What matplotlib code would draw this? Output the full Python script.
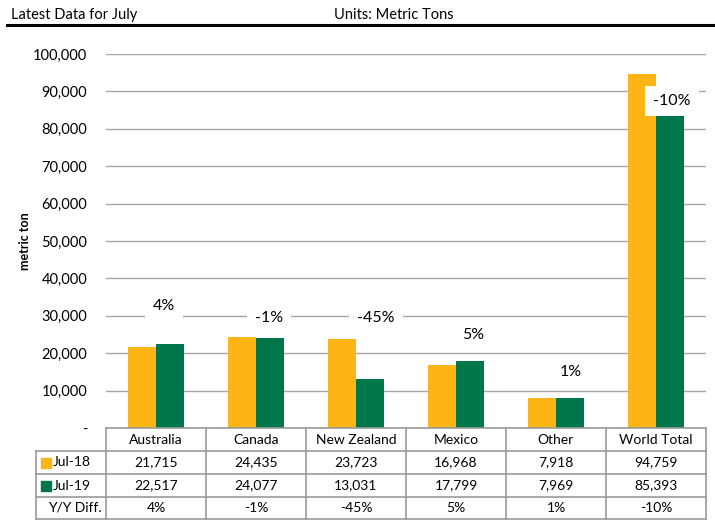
import numpy as np
import matplotlib.pyplot as plt
from matplotlib.lines import Line2D

plt.rcParams['font.family'] = ['Lato', 'DejaVu Sans']

# data
categories = ['Australia', 'Canada', 'New Zealand', 'Mexico', 'Other', 'World Total']
jul18 = [21715, 24435, 23723, 16968, 7918, 94759]
jul19 = [22517, 24077, 13031, 17799, 7969, 85393]
yoy = ['4%', '-1%', '-45%', '5%', '1%', '-10%']
# where the Y/Y labels sit (offset from category centre, height)
label_dx = [0.08, 0.13, 0.20, 0.17, 0.15, 0.16]
label_y = [32600, 29400, 29400, 24900, 15000, 87400]

orange = '#FCB515'
green = '#00774A'
grid_c = '#A6A6A6'

W, H = 715, 521
fig = plt.figure(figsize=(W / 100, H / 100), dpi=100)

def fx(px):
    return px / W

def fy(py):
    return 1 - py / H

# header
fig.text(fx(11), fy(15), 'Latest Data for July', fontsize=10.5, va='center', ha='left')
fig.text(fx(394), fy(15), 'Units: Metric Tons', fontsize=10.5, va='center', ha='center')
fig.add_artist(Line2D([fx(7), 1], [fy(25), fy(25)], color='black', lw=2.2,
                      transform=fig.transFigure))

# chart
x0, x1, ytop, ybot = 106, 706, 54, 428
ax = fig.add_axes([fx(x0), fy(ybot), fx(x1 - x0), fy(ytop) - fy(ybot)])
x = np.arange(len(categories))
w = 0.28
ax.bar(x - w / 2, jul18, w, color=orange, zorder=3)
ax.bar(x + w / 2, jul19, w, color=green, zorder=3)
ax.set_xlim(-0.5, len(categories) - 0.5)
ax.set_ylim(0, 100000)
ax.set_yticks(range(0, 100001, 10000))
ax.set_yticklabels(['-'] + [f'{v:,}' for v in range(10000, 100001, 10000)], fontsize=10.5)
ax.tick_params(axis='y', length=0, pad=13.5)
ax.set_xticks([])
ax.grid(axis='y', color=grid_c, lw=1, zorder=0)
for s in ax.spines.values():
    s.set_visible(False)
ax.set_ylabel('metric ton', fontsize=9, fontweight='bold')
ax.yaxis.set_label_coords(-0.125, 0.5)

for i, t in enumerate(yoy):
    ax.text(x[i] + label_dx[i], label_y[i], t, ha='center', va='center', fontsize=11.5,
            zorder=5, bbox=dict(facecolor='white', edgecolor='none', pad=6))

# data table under the chart
tx0 = 36
rows = [428, 451, 474, 497, 519]
col_edges = [x0 + 100 * i for i in range(len(categories) + 1)]
lc = '#9A9A9A'

def hline(xa, xb, yy):
    fig.add_artist(Line2D([fx(xa), fx(xb)], [fy(yy), fy(yy)], color=lc, lw=1.2,
                          transform=fig.transFigure))

def vline(xx, ya, yb):
    fig.add_artist(Line2D([fx(xx), fx(xx)], [fy(ya), fy(yb)], color=lc, lw=1.2,
                          transform=fig.transFigure))

hline(x0, x1, rows[0])
for r in rows[1:]:
    hline(tx0, x1, r)
vline(tx0, rows[1], rows[-1])
for c in col_edges:
    vline(c, rows[0], rows[-1])

for i, name in enumerate(categories):
    cx = (col_edges[i] + col_edges[i + 1]) / 2
    fig.text(fx(cx), fy((rows[0] + rows[1]) / 2), name, fontsize=10, ha='center', va='center')
    fig.text(fx(cx), fy((rows[1] + rows[2]) / 2), f'{jul18[i]:,}', fontsize=10, ha='center', va='center')
    fig.text(fx(cx), fy((rows[2] + rows[3]) / 2), f'{jul19[i]:,}', fontsize=10, ha='center', va='center')
    fig.text(fx(cx), fy((rows[3] + rows[4]) / 2), yoy[i], fontsize=10, ha='center', va='center')

# row headers with legend keys
for r, lab, col in [(1, 'Jul-18', orange), (2, 'Jul-19', green)]:
    yc = fy((rows[r] + rows[r + 1]) / 2)
    fig.add_artist(Line2D([fx(46)], [yc], marker='s', markersize=6.5, color=col,
                          linestyle='none', transform=fig.transFigure))
    fig.text(fx(53), yc, lab, fontsize=10, ha='left', va='center')
fig.text(fx(102), fy((rows[3] + rows[4]) / 2), 'Y/Y Diff.', fontsize=10, ha='right', va='center')

fig.savefig('out.png', dpi=100)
